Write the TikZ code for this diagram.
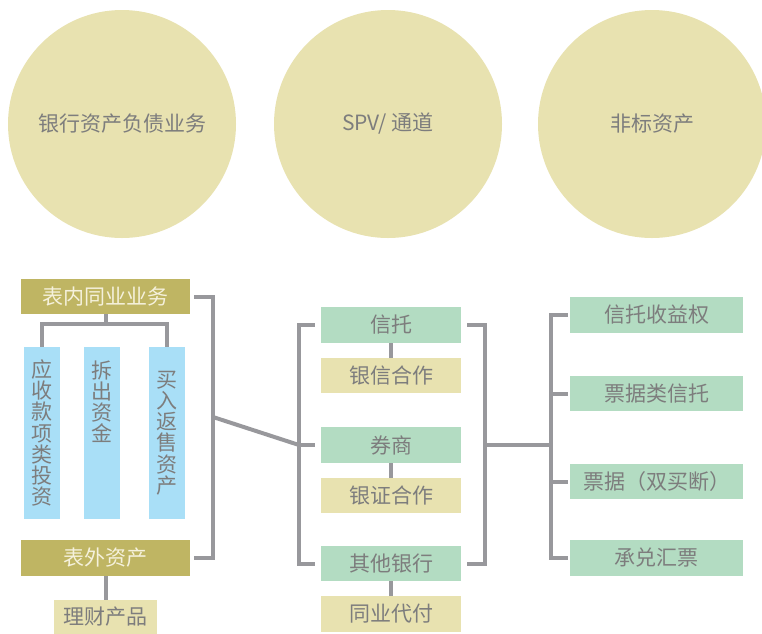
\documentclass[tikz,border=0pt]{standalone}
\usepackage{fontspec}
\newfontfamily\cjk{Noto Sans CJK SC}
\definecolor{olive}{HTML}{BFB563}
\definecolor{pale}{HTML}{E8E2B0}
\definecolor{mint}{HTML}{B3DCC2}
\definecolor{sky}{HTML}{A9DFF7}
\definecolor{txt}{HTML}{7D7D7D}
\definecolor{titletxt}{HTML}{F5F1DC}
\definecolor{link}{HTML}{98989C}
\tikzset{
  circ/.style={circle, fill=pale, minimum size=228pt, inner sep=0, text=txt, font=\cjk\fontsize{21}{21}\selectfont},
  boxbase/.style={rectangle, inner sep=0, text=txt, font=\cjk\fontsize{21}{21}\selectfont},
  titlebox/.style={boxbase, fill=olive, text=titletxt, minimum width=169pt, minimum height=35pt},
  palebox/.style={boxbase, fill=pale},
  mintbox/.style={boxbase, fill=mint},
  skybox/.style={boxbase, fill=sky, minimum width=36pt, minimum height=172pt, align=center, font=\cjk\fontsize{21}{21.2}\selectfont},
  conn/.style={draw=link, line width=4pt},
}
\begin{document}
\begin{tikzpicture}[x=1pt,y=-1pt]
\path[use as bounding box, fill=white] (0,0) rectangle (762,633);
% circles
\node[circ] (c1) at (122,124) {银行资产负债业务};
\node[circ] (c2) at (388,124) {SPV/ 通道};
\node[circ] (c3) at (652,124) {非标资产};
% left column
\node[titlebox] (tn) at (105.5,296.5) {表内同业业务};
\node[skybox] (b1) at (42,433) {应\\收\\款\\项\\类\\投\\资};
\node[skybox] (b2) at (102,433) {拆\\出\\资\\金\\\mbox{}\\\mbox{}\\\mbox{}};
\node[skybox] (b3) at (167,433) {买\\入\\返\\售\\资\\产};
\node[titlebox, minimum height=36pt] (bw) at (105.5,558) {表外资产};
\node[palebox, minimum width=103pt, minimum height=34pt] (lc) at (105.5,617) {理财产品};
% middle column
\node[mintbox, minimum width=140pt, minimum height=36pt] (xt) at (391,325) {信托};
\node[palebox, minimum width=140pt, minimum height=35pt] (yx) at (391,375.5) {银信合作};
\node[mintbox, minimum width=140pt, minimum height=36pt] (qs) at (391,445) {券商};
\node[palebox, minimum width=140pt, minimum height=35pt] (yz) at (391,495.5) {银证合作};
\node[mintbox, minimum width=140pt, minimum height=35pt] (qt) at (391,563.5) {其他银行};
\node[palebox, minimum width=140pt, minimum height=36pt] (ty) at (391,614) {同业代付};
% right column
\node[mintbox, minimum width=173pt, minimum height=36pt] (r1) at (656.5,315) {信托收益权};
\node[mintbox, minimum width=173pt, minimum height=35pt] (r2) at (656.5,393.5) {票据类信托};
\node[mintbox, minimum width=173pt, minimum height=35pt] (r3) at (656.5,481.5) {票据（双买断）};
\node[mintbox, minimum width=173pt, minimum height=36pt] (r4) at (656.5,558) {承兑汇票};
% coordinates
\coordinate (bk) at (213,417);
\coordinate (ml) at (299,445);
\coordinate (mr) at (485,445);
\coordinate (rr) at (551,445);
% connectors left
\draw[conn] (tn.south) -- ++(0,10);
\draw[conn] (b1.north) -- ++(0,-23) -| (b3.north);
\draw[conn] ([xshift=4pt]tn.east) -- ++(19,0) |- ([xshift=4pt]bw.east);
\draw[conn] (bw.south) -- (lc.north);
\draw[conn] (bk) -- (ml);
% middle
\draw[conn] ([xshift=-6pt]xt.west) -- ++(-16,0) |- ([xshift=-6pt]qt.west);
\draw[conn] (ml) -- ([xshift=-6pt]qs.west);
\draw[conn] ([xshift=6pt]xt.east) -- ++(18,0) |- ([xshift=6pt]qt.east);
\draw[conn] (xt.south) -- (yx.north);
\draw[conn] (qs.south) -- (yz.north);
\draw[conn] (qt.south) -- (ty.north);
\draw[conn] (mr) -- (rr);
% right
\draw[conn] ([xshift=-2pt]r1.west) -- ++(-17,0) |- ([xshift=-2pt]r4.west);
\draw[conn] (rr |- r2.west) -- ([xshift=-2pt]r2.west);
\draw[conn] (rr |- r3.west) -- ([xshift=-2pt]r3.west);
\end{tikzpicture}
\end{document}
